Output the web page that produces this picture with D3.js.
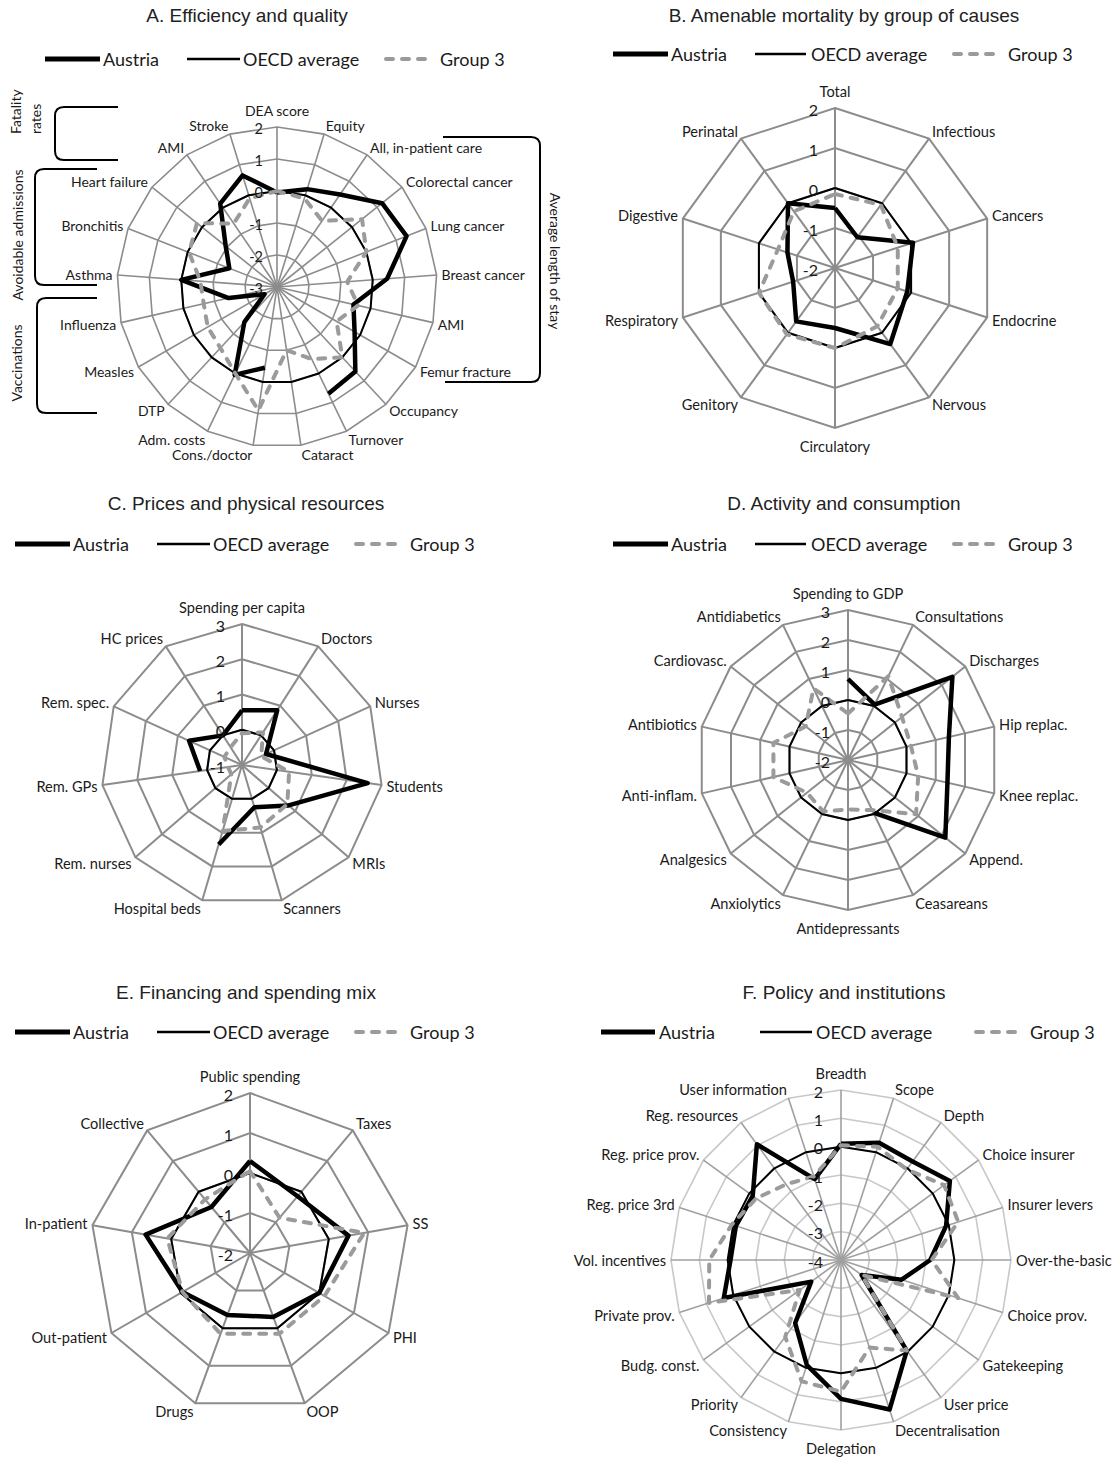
<!DOCTYPE html>
<html>
<head>
<meta charset="utf-8">
<script src="https://cdn.jsdelivr.net/npm/d3@7"></script>
<style>
body { margin: 0; background: #fff; }
svg { display: block; }
text { font-family: Lato, "Liberation Sans", sans-serif; fill: #1a1a1a; }
.title { font-family: "Liberation Sans", Arial, sans-serif; font-size: 19px; fill: #222; }
.legend text { font-size: 18px; }
</style>
</head>
<body>
<svg id="chart" width="1118" height="1458"></svg>
<script>
// ---- data ----
const seriesNames = ["Austria", "OECD average", "Group 3"];

// A. Efficiency and quality
const axesA = ["DEA score", "Equity", "All, in-patient care", "Colorectal cancer", "Lung cancer",
  "Breast cancer", "AMI", "Femur fracture", "Occupancy", "Turnover", "Cataract", "Cons./doctor",
  "Adm. costs", "DTP", "Measles", "Influenza", "Asthma", "Bronchitis", "Heart failure", "AMI", "Stroke"];
const austriaA = [-0.05, 0.2, 0.5, 1.2, 1.35, 0.45, -0.55, -0.2, 0.6, 0.7, null, -0.45,
  0.05, -1.5, -2.55, -1.45, 0.0, -1.4, -0.95, 0.15, 0.65];
const oecdA = [0, 0, 0, 0, 0, 0, 0, 0, 0, 0, 0, 0, 0, 0, 0, 0, 0, 0, 0, 0, 0];
const group3A = [0.0, -0.1, -0.5, 0.4, 0.0, -0.8, -0.4, -0.85, 0.0, -0.5, -1.0, 0.9,
  0.0, -0.4, -0.5, -0.65, -0.6, -0.05, 0.2, -0.6, -0.1];
const ticksA = [-3, -2, -1, 0, 1, 2];

// B. Amenable mortality by group of causes
const axesB = ["Total", "Infectious", "Cancers", "Endocrine", "Nervous", "Circulatory",
  "Genitory", "Respiratory", "Digestive", "Perinatal"];
const austriaB = [-0.5, -1.05, 0.05, -0.1, 0.35, -0.5, -0.35, -0.9, -0.75, 0.0];
const oecdB = [0, 0, 0, 0, 0, 0, 0, 0, 0, 0];
const group3B = [-0.15, -0.05, -0.35, -0.35, -0.2, 0.0, 0.05, 0.0, -0.5, -0.25];
const ticksB = [-2, -1, 0, 1, 2];

// C. Prices and physical resources
const axesC = ["Spending per capita", "Doctors", "Nurses", "Students", "MRIs", "Scanners",
  "Hospital beds", "Rem. nurses", "Rem. GPs", "Rem. spec.", "HC prices"];
const austriaC = [0.55, 0.85, -0.25, 2.6, 0.75, 0.25, 1.35, null, 0.2, 0.65, 0.0];
const oecdC = [0, 0, 0, 0, 0, 0, 0, 0, 0, 0, 0];
const group3C = [-0.1, 0.1, -0.4, 0.35, 0.7, 0.85, 0.95, -0.6, -0.6, -0.45, -0.4];
const ticksC = [-1, 0, 1, 2, 3];

// D. Activity and consumption
const axesD = ["Spending to GDP", "Consultations", "Discharges", "Hip replac.", "Knee replac.",
  "Append.", "Ceasareans", "Antidepressants", "Anxiolytics", "Analgesics", "Anti-inflam.",
  "Antibiotics", "Cardiovasc.", "Antidiabetics"];
const austriaD = [0.7, 0.05, 2.45, 1.45, 1.4, 2.15, -0.05, null, null, null, null, null, null, null];
const oecdD = [0, 0, 0, 0, 0, 0, 0, 0, 0, 0, 0, 0, 0, 0];
const group3D = [-0.45, 1.1, 0.3, 0.15, 0.4, 0.9, -0.15, -0.35, -0.1, -0.25, 0.55, 0.55, -0.2, 0.65];
const ticksD = [-2, -1, 0, 1, 2, 3];

// E. Financing and spending mix
const axesE = ["Public spending", "Taxes", "SS", "PHI", "OOP", "Drugs", "Out-patient",
  "In-patient", "Collective"];
const austriaE = [0.3, -0.15, 0.5, 0.0, -0.3, -0.35, -0.05, 0.65, -0.5];
const oecdE = [0, 0, 0, 0, 0, 0, 0, 0, 0];
const group3E = [0.05, -0.85, 0.9, 0.15, 0.15, 0.15, -0.05, 0.1, -0.25];
const ticksE = [-2, -1, 0, 1, 2];

// F. Policy and institutions
const axesF = ["Breadth", "Scope", "Depth", "Choice insurer", "Insurer levers", "Over-the-basic",
  "Choice prov.", "Gatekeeping", "User price", "Decentralisation", "Delegation", "Consistency",
  "Priority", "Budg. const.", "Private prov.", "Vol. incentives", "Reg. price 3rd",
  "Reg. price prov.", "Reg. resources", "User information"];
const austriaF = [0.1, 0.35, 0.3, 0.75, -0.1, -0.85, -1.75, -3.1, -0.05, 1.55, 0.9, -0.1,
  -1.25, -2.7, 0.35, -0.1, -0.1, -0.15, 1.05, -1.0];
const oecdF = [0, 0, 0, 0, 0, 0, 0, 0, 0, 0, 0, 0, 0, 0, 0, 0, 0, 0, 0, 0];
const group3F = [0.05, 0.2, -0.05, 0.5, 0.35, -0.8, 0.35, -3.1, -0.05, -0.75, 0.65, 0.5,
  -0.65, -2.2, 0.9, 0.65, 0.05, -0.3, -0.7, -0.9];
const ticksF = [-4, -3, -2, -1, 0, 1, 2];

// ---- styles ----
const seriesStyle = [
  { stroke: "#000", width: 4.5, dash: null },
  { stroke: "#000", width: 2, dash: null },
  { stroke: "#9b9b9b", width: 4, dash: "7,9" }
];

const svg = d3.select("#chart");

function drawRadar(cfg) {
  const g = svg.append("g").attr("transform", `translate(${cfg.cx}, ${cfg.cy})`);
  const n = cfg.axes.length;
  const r = d3.scaleLinear()
    .domain([cfg.ticks[0], cfg.ticks[cfg.ticks.length - 1]])
    .range([0, cfg.radius]);
  const a = d3.scaleLinear().domain([0, n]).range([0, 2 * Math.PI]);
  const idx = d3.range(n);

  // rings
  cfg.ticks.slice(1).forEach((t) => {
    g.append("path")
      .attr("d", d3.lineRadial().angle((i) => a(i)).radius(r(t)).curve(d3.curveLinearClosed)(idx))
      .attr("fill", "none")
      .attr("stroke", cfg.ringColor)
      .attr("stroke-width", cfg.gridWidth);
  });

  // spokes
  g.selectAll(".spoke")
    .data(idx)
    .enter()
    .append("line")
    .attr("x1", 0).attr("y1", 0)
    .attr("x2", (i) => r.range()[1] * Math.sin(a(i)))
    .attr("y2", (i) => -r.range()[1] * Math.cos(a(i)))
    .attr("stroke", cfg.spokeColor)
    .attr("stroke-width", cfg.gridWidth);

  // series
  const line = d3.lineRadial()
    .defined((d) => d.v != null)
    .angle((d) => a(d.i))
    .radius((d) => r(d.v))
    .curve(d3.curveLinear);

  cfg.series.forEach((values, k) => {
    const pts = values.map((v, i) => ({ i: i, v: v }));
    pts.push({ i: n, v: values[0] });
    const st = seriesStyle[k];
    g.append("path")
      .attr("d", line(pts))
      .attr("fill", "none")
      .attr("stroke", st.stroke)
      .attr("stroke-width", st.width)
      .attr("stroke-linejoin", "round")
      .attr("stroke-linecap", st.dash ? "round" : "butt")
      .attr("stroke-dasharray", st.dash);
  });

  // tick labels along the top axis
  g.selectAll(".tick")
    .data(cfg.ticks)
    .enter()
    .append("text")
    .attr("x", -cfg.tickDx)
    .attr("y", (t) => -r(t) + 1)
    .attr("text-anchor", "end")
    .attr("dominant-baseline", "central")
    .style("font-size", cfg.tickSize + "px")
    .text((t) => t);

  // axis labels
  const R = cfg.radius;
  g.selectAll(".axlab")
    .data(idx)
    .enter()
    .append("text")
    .attr("x", (i) => (R + 5) * Math.sin(a(i)))
    .attr("y", (i) => {
      const s = Math.sin(a(i)), c = Math.cos(a(i));
      if (Math.abs(s) < 0.02) return -(R + 5) * c + (c > 0 ? -12 : 13);
      return -(R + 5) * c - c * 4;
    })
    .attr("text-anchor", (i) => {
      const s = Math.sin(a(i));
      return Math.abs(s) < 0.02 ? "middle" : s > 0 ? "start" : "end";
    })
    .attr("dominant-baseline", "central")
    .style("font-size", cfg.labelSize + "px")
    .text((i) => cfg.axes[i]);
}

function drawHeader(title, tx, ty, ly, lx) {
  svg.append("text").attr("class", "title")
    .attr("x", tx).attr("y", ty)
    .attr("text-anchor", "middle")
    .attr("dominant-baseline", "central")
    .text(title);
  const lg = svg.append("g").attr("class", "legend");
  lx.forEach((p, k) => {
    const st = seriesStyle[k];
    lg.append("line")
      .attr("x1", p[0]).attr("x2", p[1])
      .attr("y1", ly).attr("y2", ly)
      .attr("stroke", st.stroke)
      .attr("stroke-width", k === 0 ? 5 : k === 1 ? 2.5 : 4)
      .attr("stroke-linecap", st.dash ? "round" : "butt")
      .attr("stroke-dasharray", st.dash);
    lg.append("text")
      .attr("x", p[2]).attr("y", ly)
      .attr("dominant-baseline", "central")
      .text(seriesNames[k]);
  });
}

// ---- panels ----
const labelSize = 14.6;
drawHeader("A. Efficiency and quality", 247, 15, 59, [[45, 100, 103], [187, 240, 243], [386, 428, 440]]);
drawRadar({ cx: 277, cy: 287, radius: 160, axes: axesA, ticks: ticksA,
  series: [austriaA, oecdA, group3A], ringColor: "#8c8c8c", spokeColor: "#8c8c8c",
  gridWidth: 1.6, tickDx: 14, tickSize: 14.5, labelSize: 14 });

drawHeader("B. Amenable mortality by group of causes", 844, 15, 54, [[613, 668, 671], [755, 806, 811], [954, 998, 1008]]);
drawRadar({ cx: 835, cy: 268, radius: 160, axes: axesB, ticks: ticksB,
  series: [austriaB, oecdB, group3B], ringColor: "#8c8c8c", spokeColor: "#8c8c8c",
  gridWidth: 2, tickDx: 17, tickSize: 16, labelSize: labelSize });

drawHeader("C. Prices and physical resources", 246, 503, 544, [[15, 70, 73], [157, 210, 213], [356, 398, 410]]);
drawRadar({ cx: 242, cy: 765, radius: 141, axes: axesC, ticks: ticksC,
  series: [austriaC, oecdC, group3C], ringColor: "#8c8c8c", spokeColor: "#8c8c8c",
  gridWidth: 2, tickDx: 17, tickSize: 16, labelSize: labelSize });

drawHeader("D. Activity and consumption", 844, 503, 544, [[613, 668, 671], [755, 806, 811], [954, 998, 1008]]);
drawRadar({ cx: 848, cy: 760, radius: 150, axes: axesD, ticks: ticksD,
  series: [austriaD, oecdD, group3D], ringColor: "#8c8c8c", spokeColor: "#8c8c8c",
  gridWidth: 2, tickDx: 18, tickSize: 16, labelSize: labelSize });

drawHeader("E. Financing and spending mix", 246, 992, 1032, [[15, 70, 73], [157, 210, 213], [356, 398, 410]]);
drawRadar({ cx: 250, cy: 1253, radius: 160, axes: axesE, ticks: ticksE,
  series: [austriaE, oecdE, group3E], ringColor: "#8c8c8c", spokeColor: "#8c8c8c",
  gridWidth: 2, tickDx: 17, tickSize: 16, labelSize: labelSize });

drawHeader("F. Policy and institutions", 844, 992, 1032, [[601, 655, 659], [760, 812, 816], [976, 1018, 1030]]);
drawRadar({ cx: 841, cy: 1260, radius: 170, axes: axesF, ticks: ticksF,
  series: [austriaF, oecdF, group3F], ringColor: "#c8c8c8", spokeColor: "#a0a0a0",
  gridWidth: 1.6, tickDx: 18, tickSize: 16, labelSize: labelSize });

// ---- panel A group brackets ----
function bracket(x0, yt, yb, xTop, xBot) {
  const dir = xTop > x0 ? 1 : -1, k = 9;
  return `M${xTop},${yt} L${x0 + dir * k},${yt} Q${x0},${yt} ${x0},${yt + k} ` +
    `L${x0},${yb - k} Q${x0},${yb} ${x0 + dir * k},${yb} L${xBot},${yb}`;
}
const brackets = [
  bracket(55, 107, 160, 118, 118),
  bracket(35, 169, 285, 97, 97),
  bracket(37, 298, 413, 97, 97),
  bracket(540, 137, 382, 443, 445)
];
svg.selectAll(".bracket")
  .data(brackets)
  .enter()
  .append("path")
  .attr("d", (d) => d)
  .attr("fill", "none")
  .attr("stroke", "#000")
  .attr("stroke-width", 2);

const sideNotes = [
  { t: "Fatality", x: 15, y: 134, rot: -90, anchor: "start" },
  { t: "rates", x: 35, y: 134, rot: -90, anchor: "start" },
  { t: "Avoidable admissions", x: 17, y: 235, rot: -90, anchor: "middle" },
  { t: "Vaccinations", x: 16, y: 363, rot: -90, anchor: "middle" },
  { t: "Average length of stay", x: 555, y: 261, rot: 90, anchor: "middle" }
];
svg.selectAll(".note")
  .data(sideNotes)
  .enter()
  .append("text")
  .attr("transform", (d) => `translate(${d.x}, ${d.y}) rotate(${d.rot})`)
  .attr("text-anchor", (d) => d.anchor)
  .attr("dominant-baseline", "central")
  .style("font-size", "14px")
  .text((d) => d.t);
</script>
</body>
</html>
